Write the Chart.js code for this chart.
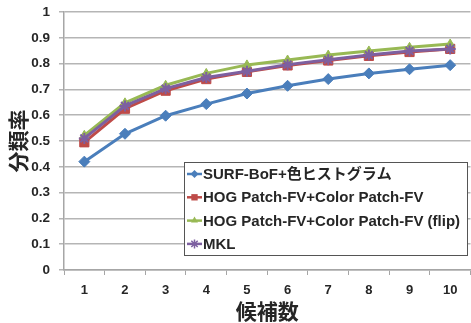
<!DOCTYPE html>
<html>
<head>
<meta charset="utf-8">
<style>
  html, body { margin: 0; padding: 0; background: #fff; overflow: hidden; }
  #wrap { position: relative; width: 478px; height: 323px; }
  canvas { display: block; }
</style>
<script src="https://cdn.jsdelivr.net/npm/chart.js@4.4.1/dist/chart.umd.min.js"></script>
</head>
<body>
<div id="wrap"><canvas id="c" width="478" height="323"></canvas></div>
<script>
// Number of candidates (x axis)
const candidates = ['1', '2', '3', '4', '5', '6', '7', '8', '9', '10'];

// Classification rate per method
const surfBoF   = [0.420, 0.528, 0.598, 0.643, 0.684, 0.714, 0.740, 0.762, 0.778, 0.794];
const hogColor  = [0.495, 0.625, 0.695, 0.740, 0.768, 0.793, 0.812, 0.830, 0.845, 0.857];
const hogFlip   = [0.522, 0.648, 0.716, 0.762, 0.795, 0.814, 0.833, 0.849, 0.863, 0.876];
const mkl       = [0.510, 0.636, 0.703, 0.746, 0.770, 0.796, 0.815, 0.833, 0.849, 0.857];

const seriesNames = [
  'SURF-BoF+色ヒストグラム',
  'HOG Patch-FV+Color Patch-FV',
  'HOG Patch-FV+Color Patch-FV (flip)',
  'MKL'
];

const yTickLabels = ['0', '0.1', '0.2', '0.3', '0.4', '0.5', '0.6', '0.7', '0.8', '0.9', '1'];
const xTitle = '候補数';
const yTitle = '分類率';

const LATIN = '"Liberation Sans", "Noto Sans CJK JP", sans-serif';
const CJK = '"Noto Sans CJK JP", "Liberation Sans", sans-serif';
const TEXT = '#262626';

// Later series are painted over earlier ones (lower order = drawn on top)
function ds(label, data, color, style, radius, order) {
  return {
    label, data, order,
    borderColor: color, backgroundColor: color,
    borderWidth: 3,
    pointStyle: style, pointRadius: radius, pointHoverRadius: radius,
    pointBorderWidth: style === 'star' ? 2 : 1,
    pointBorderColor: color, pointBackgroundColor: color,
    tension: 0, fill: false
  };
}

// Axis titles and the boxed legend inside the plot
const decorations = {
  id: 'decorations',
  afterDraw(chart) {
    const ctx = chart.ctx;
    const area = chart.chartArea;
    ctx.save();
    // x title
    ctx.fillStyle = TEXT;
    ctx.font = 'bold 21px ' + CJK;
    ctx.textAlign = 'center';
    ctx.textBaseline = 'middle';
    ctx.fillText(xTitle, (area.left + area.right) / 2, 311);
    // y title, rotated
    ctx.save();
    ctx.translate(18, (area.top + area.bottom) / 2);
    ctx.rotate(-Math.PI / 2);
    ctx.fillText(yTitle, 0, 0);
    ctx.restore();

    // legend box
    const bx = 184, by = 162, bw = 283, bh = 93;
    ctx.fillStyle = '#fff';
    ctx.fillRect(bx, by, bw, bh);
    ctx.strokeStyle = '#555';
    ctx.lineWidth = 1;
    ctx.strokeRect(bx + 0.5, by + 0.5, bw, bh);
    ctx.font = 'bold 15px ' + LATIN;
    ctx.textAlign = 'left';
    chart.data.datasets.forEach((d, i) => {
      const y = 174 + i * 23.3;
      const isStar = d.pointStyle === 'star';
      ctx.strokeStyle = d.borderColor;
      ctx.fillStyle = d.borderColor;
      ctx.lineWidth = 2.5;
      ctx.beginPath();
      ctx.moveTo(187, y);
      ctx.lineTo(202, y);
      ctx.stroke();
      ctx.lineWidth = isStar ? 1.5 : 1;
      Chart.helpers.drawPoint(ctx, {
        pointStyle: d.pointStyle,
        radius: d.pointStyle === 'rect' ? 4.5 : (isStar ? 4.5 : 4),
        borderWidth: isStar ? 1.5 : 0,
        rotation: 0
      }, 194.5, y);
      ctx.fillStyle = TEXT;
      ctx.fillText(d.label, 203, y + 1);
    });
    ctx.restore();
  }
};

new Chart(document.getElementById('c'), {
  type: 'line',
  data: {
    labels: candidates,
    datasets: [
      ds(seriesNames[0], surfBoF, '#4A7EBB', 'rectRot', 5.5, 3),
      ds(seriesNames[1], hogColor, '#BE4B48', 'rect', 6.5, 2),
      ds(seriesNames[2], hogFlip, '#98B954', 'triangle', 5, 1),
      ds(seriesNames[3], mkl, '#7D60A0', 'star', 5.5, 0)
    ]
  },
  options: {
    responsive: false,
    animation: false,
    events: [],
    layout: { padding: { top: 12, right: 4, left: 0, bottom: 0 } },
    plugins: { legend: { display: false }, tooltip: { enabled: false } },
    scales: {
      x: {
        offset: true,
        grid: { offset: true, drawOnChartArea: false, tickLength: 5, color: '#A6A6A6', lineWidth: 1 },
        border: { color: '#A6A6A6', width: 1.5 },
        ticks: { color: TEXT, font: { family: LATIN, size: 13, weight: 'bold' }, padding: 8, maxRotation: 0 },
        afterFit(scale) { scale.height = 53; scale.paddingLeft = 0; scale.paddingRight = 0; }
      },
      y: {
        min: 0, max: 1,
        ticks: {
          stepSize: 0.1,
          color: TEXT,
          font: { family: LATIN, size: 13.5, weight: 'bold' },
          padding: 9,
          callback: (v) => yTickLabels[Math.round(v * 10)]
        },
        grid: { color: '#B5B5B5', lineWidth: 1.5, tickLength: 5 },
        border: { color: '#A6A6A6', width: 1.5 },
        afterFit(scale) { scale.width = 64; scale.paddingTop = 0; scale.paddingBottom = 0; }
      }
    }
  },
  plugins: [decorations]
});
</script>
</body>
</html>
